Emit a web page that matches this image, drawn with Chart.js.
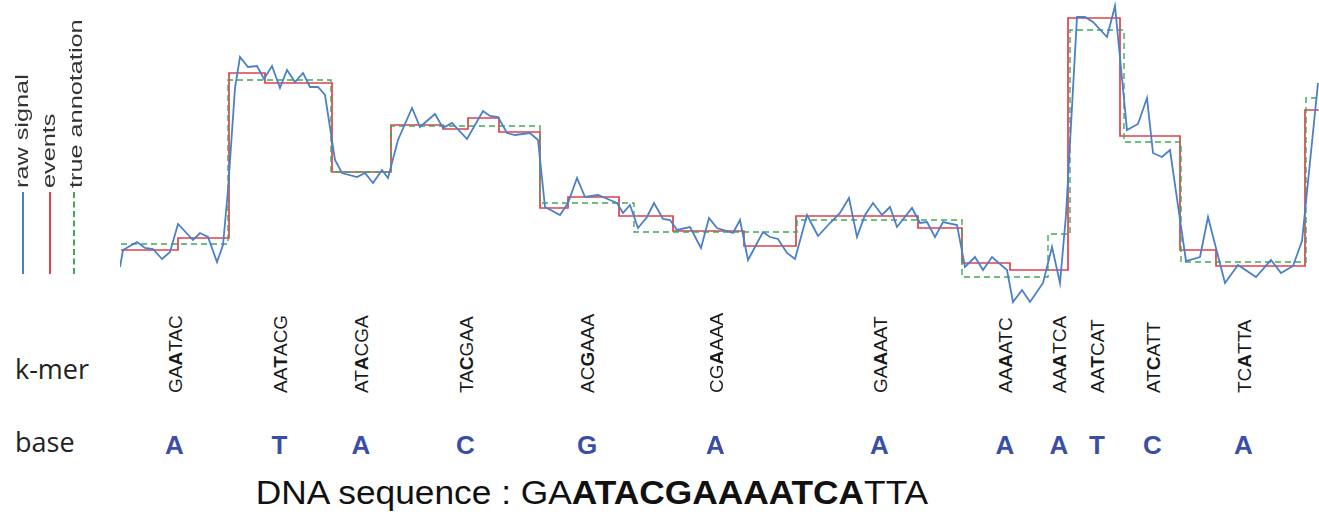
<!DOCTYPE html>
<html>
<head>
<meta charset="utf-8">
<script src="https://cdn.jsdelivr.net/npm/chart.js"></script>
<style>
  body { margin: 0; background: #fff; }
  #lienzo { position: relative; width: 1319px; height: 516px; overflow: hidden; font-family: 'Liberation Sans', Arial, sans-serif; color: #1a1a1a; }
  #grafica { position: absolute; left: 0; top: 0; }
  .rot { position: absolute; white-space: nowrap; line-height: 1; transform-origin: 0 0; }
  .linea { position: absolute; width: 0; }
  .fila { position: absolute; font-family: 'Open Sans', sans-serif; font-size: 27px; line-height: 1; color: #222; }
  .base { position: absolute; width: 40px; text-align: center; font-weight: bold; font-size: 26px; line-height: 1; color: #3b4ea6; }
  #secuencia { position: absolute; left: 592px; top: 476px; font-size: 33px; line-height: 1; white-space: nowrap; color: #111; transform: translateX(-50%) scaleX(1.07); }
</style>
</head>
<body>
<div id="lienzo">
  <canvas id="grafica" width="1319" height="312"></canvas>
  <div class="fila" style="left:15px; top:355px;">k-mer</div>
  <div class="fila" style="left:15px; top:428px;">base</div>
  <div id="secuencia">DNA sequence : GA<b>ATACGAAAATCA</b>TTA</div>
</div>
<script>
// Señal cruda: tiempo (muestras) y corriente
var tiempoSenal = [0, 3, 17, 25, 33, 42, 50, 58, 73, 80,
  88, 97, 103, 108, 115, 120, 128, 137, 144, 152,
  160, 167, 175, 183, 190, 198, 205, 215, 222, 237,
  245, 253, 262, 268, 278, 292, 300, 315, 323, 332,
  347, 363, 370, 378, 387, 395, 410, 418, 425, 440,
  448, 457, 465, 478, 490, 497, 503, 510, 518, 527,
  534, 543, 550, 557, 570, 581, 589, 597, 613, 620,
  628, 643, 650, 658, 667, 675, 687, 698, 710, 720,
  729, 737, 745, 753, 762, 770, 777, 792, 800, 807,
  815, 823, 837, 845, 855, 863, 872, 887, 893, 902,
  910, 923, 932, 940, 946, 957, 965, 973, 987, 995,
  1007, 1018, 1027, 1033, 1042, 1050, 1066, 1080, 1088, 1105,
  1118, 1136, 1151, 1161, 1173, 1182, 1198];
var senalCruda = [43, 60, 68, 62, 61, 51, 58, 86, 70, 77,
  73, 48, 65, 120, 222, 253, 243, 244, 231, 244,
  222, 240, 228, 237, 223, 223, 215, 150, 137, 133,
  137, 127, 140, 132, 170, 202, 183, 196, 182, 187,
  171, 199, 194, 193, 177, 175, 177, 170, 103, 95,
  107, 132, 113, 115, 110, 107, 97, 105, 82, 93,
  107, 91, 90, 80, 83, 62, 92, 82, 77, 90,
  50, 78, 73, 71, 57, 51, 95, 74, 87, 97,
  112, 73, 95, 107, 95, 103, 83, 102, 87, 88,
  73, 88, 85, 43, 53, 40, 53, 40, 8, 20,
  8, 27, 63, 27, 95, 293, 293, 288, 273, 304,
  180, 186, 212, 157, 153, 160, 49, 53, 93, 27,
  45, 33, 50, 37, 44, 69, 227];

// Eventos detectados (inicio de cada escalón y su nivel)
var inicioEventos = [1, 58, 109, 145, 212, 271, 323, 348, 379, 420, 448, 499, 553, 624, 676, 798, 842, 890, 948, 1000, 1060, 1096, 1185];
var nivelEventos = [60, 72, 237, 227, 138, 185, 181, 192, 178, 102, 113, 94, 79, 64, 94, 82, 47, 40, 292, 174, 60, 44, 200];

// Anotación verdadera (un escalón por k-mer)
var inicioAnotacion = [1, 108, 211, 271, 420, 514, 677, 842, 928, 950, 1004, 1061, 1186];
var nivelAnotacion = [66, 230, 138, 184, 107, 78, 90, 33, 76, 280, 168, 48, 212];
var tiempoFinal = 1199;

var kmers = ['GAATAC', 'AATACG', 'ATACGA', 'TACGAA', 'ACGAAA', 'CGAAAA', 'GAAAAT', 'AAAATC', 'AAATCA', 'AATCAT', 'ATCATT', 'TCATTA'];
var bases = ['A', 'T', 'A', 'C', 'G', 'A', 'A', 'A', 'A', 'T', 'C', 'A'];

var etiquetasLeyenda = ['raw signal', 'events', 'true annotation'];
var coloresLeyenda = ['#4a80c8', '#e0404c', '#3fa85a'];

function puntosEscalera(inicios, niveles) {
  var puntos = inicios.map(function(t, i) { return { x: t, y: niveles[i] }; });
  puntos.push({ x: tiempoFinal, y: niveles[niveles.length - 1] });
  return puntos;
}

document.addEventListener('DOMContentLoaded', function() {
  var puntosSenal = tiempoSenal.map(function(t, i) { return { x: t, y: senalCruda[i] }; });

  var ctx = document.getElementById('grafica').getContext('2d');
  var miGrafica = new Chart(ctx, {
    type: 'line',
    data: {
      datasets: [{
        label: etiquetasLeyenda[0],
        data: puntosSenal,
        borderColor: coloresLeyenda[0],
        borderWidth: 1.8,
        pointRadius: 0,
        order: 0
      }, {
        label: etiquetasLeyenda[1],
        data: puntosEscalera(inicioEventos, nivelEventos),
        stepped: true,
        borderColor: coloresLeyenda[1],
        borderWidth: 1.7,
        pointRadius: 0,
        order: 2
      }, {
        label: etiquetasLeyenda[2],
        data: puntosEscalera(inicioAnotacion, nivelAnotacion),
        stepped: true,
        borderColor: coloresLeyenda[2],
        borderDash: [6, 4],
        borderWidth: 1.4,
        pointRadius: 0,
        order: 1
      }]
    },
    options: {
      responsive: false,
      animation: false,
      devicePixelRatio: 1,
      layout: { padding: { left: 120, right: 0, top: 0, bottom: 0 } },
      plugins: { legend: { display: false }, tooltip: { enabled: false } },
      scales: {
        x: { type: 'linear', min: 0, max: tiempoFinal, display: false },
        y: { min: -2, max: 310, display: false }
      }
    }
  });

  var lienzo = document.getElementById('lienzo');

  // Leyenda vertical a la izquierda
  var centrosLeyenda = [21, 48, 75];
  etiquetasLeyenda.forEach(function(texto, i) {
    var t = document.createElement('div');
    t.className = 'rot';
    t.textContent = texto;
    t.style.fontSize = '19px';
    t.style.color = '#333';
    t.style.left = centrosLeyenda[i] + 'px';
    t.style.top = '188px';
    t.style.transform = 'rotate(-90deg) scaleX(1.33) translate(0, -50%)';
    lienzo.appendChild(t);

    var l = document.createElement('div');
    l.className = 'linea';
    l.style.left = (centrosLeyenda[i] + 1 - (i == 2 ? 3 : 0)) + 'px';
    l.style.top = '192px';
    l.style.height = '82px';
    l.style.borderLeft = '2px ' + (i == 2 ? 'dashed ' : 'solid ') + coloresLeyenda[i];
    lienzo.appendChild(l);
  });

  // k-mers y bases debajo de cada escalón de la anotación
  var escalaX = miGrafica.scales.x;
  kmers.forEach(function(kmer, i) {
    var medio = (inicioAnotacion[i] + inicioAnotacion[i + 1]) / 2;
    var px = escalaX.getPixelForValue(medio);

    var k = document.createElement('div');
    k.className = 'rot';
    k.innerHTML = kmer.slice(0, 2) + '<b>' + kmer[2] + '</b>' + kmer.slice(3);
    k.style.fontSize = '19px';
    k.style.left = px + 'px';
    k.style.top = '393px';
    k.style.transform = 'rotate(-90deg) translate(0, -50%)';
    lienzo.appendChild(k);

    var b = document.createElement('div');
    b.className = 'base';
    b.textContent = bases[i];
    b.style.left = (px - 20) + 'px';
    b.style.top = '432px';
    lienzo.appendChild(b);
  });
});
</script>
</body>
</html>
